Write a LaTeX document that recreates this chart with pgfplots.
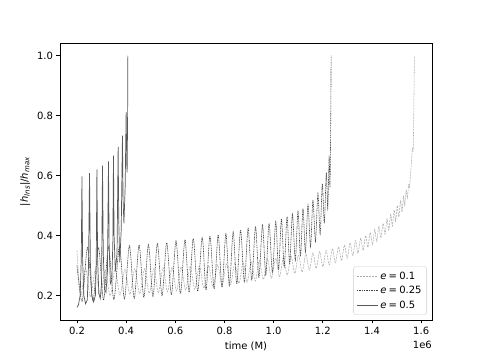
\documentclass[border=0pt]{standalone}
\usepackage{fontspec}
\setmainfont{DejaVu Sans}
\usepackage{pgfplots}
\pgfplotsset{compat=1.18}

% e = 0.5: sharp spikes
\pgfplotstableread{
x y
0.2000 0.160
0.2060 0.168
0.2130 0.200
0.2175 0.320
0.2203 0.597
0.2230 0.320
0.2280 0.200
0.2350 0.172
0.2420 0.185
0.2470 0.300
0.2511 0.608
0.2545 0.310
0.2600 0.200
0.2680 0.178
0.2750 0.200
0.2785 0.320
0.2811 0.620
0.2840 0.320
0.2890 0.205
0.2950 0.190
0.3000 0.240
0.3039 0.633
0.3070 0.340
0.3120 0.220
0.3180 0.210
0.3240 0.280
0.3282 0.647
0.3310 0.360
0.3360 0.240
0.3420 0.250
0.3460 0.380
0.3485 0.666
0.3510 0.400
0.3560 0.280
0.3630 0.340
0.3675 0.696
0.3700 0.450
0.3740 0.310
0.3800 0.420
0.3850 0.733
0.3875 0.520
0.3910 0.440
0.3960 0.560
0.4000 0.812
0.4025 0.640
0.4040 0.610
0.4060 0.800
0.4070 1.000
}\tabfive

% e = 0.25
\pgfplotstableread{
x y
0.200 0.300
0.221 0.180
0.2430 0.360
0.265 0.182
0.2876 0.360
0.308 0.184
0.3282 0.362
0.350 0.186
0.3728 0.364
0.393 0.188
0.4134 0.366
0.433 0.190
0.4527 0.368
0.472 0.193
0.4905 0.370
0.509 0.196
0.5270 0.373
0.546 0.199
0.5651 0.376
0.584 0.202
0.6028 0.382
0.621 0.206
0.6393 0.386
0.656 0.210
0.6730 0.390
0.691 0.214
0.7095 0.394
0.725 0.218
0.7408 0.398
0.758 0.222
0.7744 0.402
0.790 0.227
0.8057 0.406
0.820 0.232
0.8353 0.412
0.850 0.238
0.8653 0.418
0.881 0.245
0.8961 0.424
0.911 0.252
0.9262 0.430
0.940 0.260
0.9546 0.435
0.968 0.268
0.9813 0.440
0.995 0.276
1.0085 0.447
1.020 0.285
1.0316 0.455
1.043 0.295
1.0544 0.463
1.065 0.305
1.0763 0.471
1.088 0.317
1.0990 0.480
1.109 0.330
1.1193 0.490
1.129 0.345
1.1396 0.502
1.150 0.362
1.1598 0.518
1.170 0.380
1.1801 0.540
1.189 0.405
1.1980 0.572
1.206 0.440
1.2142 0.610
1.220 0.490
1.2256 0.660
1.229 0.560
1.2320 0.770
1.2337 1.000
}\tabquarter

% e = 0.1
\pgfplotstableread{
x y
0.200 0.350
0.215 0.200
0.235 0.290
0.255 0.195
0.275 0.285
0.295 0.197
0.315 0.285
0.335 0.199
0.355 0.286
0.375 0.201
0.395 0.287
0.415 0.203
0.435 0.288
0.455 0.205
0.475 0.289
0.494 0.207
0.513 0.290
0.531 0.209
0.550 0.292
0.568 0.212
0.587 0.293
0.605 0.215
0.624 0.295
0.642 0.218
0.661 0.297
0.679 0.221
0.698 0.298
0.716 0.224
0.735 0.300
0.753 0.228
0.772 0.302
0.790 0.232
0.808 0.305
0.825 0.236
0.842 0.308
0.859 0.240
0.876 0.310
0.892 0.244
0.909 0.313
0.925 0.248
0.942 0.316
0.958 0.253
0.975 0.320
0.991 0.258
1.008 0.324
1.024 0.263
1.040 0.327
1.055 0.268
1.071 0.330
1.086 0.273
1.101 0.334
1.116 0.278
1.131 0.338
1.145 0.284
1.160 0.342
1.173 0.290
1.187 0.346
1.200 0.296
1.213 0.350
1.226 0.302
1.239 0.356
1.251 0.309
1.264 0.362
1.276 0.316
1.288 0.368
1.299 0.324
1.311 0.375
1.322 0.332
1.333 0.383
1.343 0.341
1.354 0.390
1.364 0.350
1.374 0.400
1.383 0.360
1.393 0.410
1.402 0.370
1.411 0.420
1.419 0.381
1.428 0.430
1.436 0.392
1.445 0.440
1.453 0.404
1.461 0.455
1.468 0.418
1.476 0.470
1.483 0.432
1.490 0.485
1.496 0.447
1.503 0.500
1.509 0.462
1.516 0.515
1.522 0.478
1.528 0.530
1.533 0.500
1.539 0.550
1.544 0.525
1.549 0.570
1.553 0.560
1.556 0.600
1.560 0.640
1.564 0.690
1.568 0.700
1.5725 1.000
}\tabtenth

\newcommand{\eq}{\hspace{0.22em}=\hspace{0.22em}}

\begin{document}
\fontsize{10}{12}\selectfont
\begin{tikzpicture}
  \path[use as bounding box] (0pt,0pt) rectangle (480pt,361pt);
  \begin{axis}[
      at={(60pt,41pt)}, anchor=south west,
      scale only axis,
      width=372pt, height=277pt,
      xmin=0.131, xmax=1.644,
      ymin=0.118, ymax=1.042,
      xtick={0.2,0.4,0.6,0.8,1.0,1.2,1.4,1.6},
      ytick={0.2,0.4,0.6,0.8,1.0},
      scaled x ticks=false,
      clip mode=individual,
      tick align=outside,
      tick pos=left,
      major tick length=3.5pt,
      every tick/.style={black, line width=0.8pt},
      axis line style={black, line width=0.8pt},
      /pgf/number format/assume math mode=true,
      xticklabel style={/pgf/number format/fixed, /pgf/number format/fixed zerofill, /pgf/number format/precision=1},
      yticklabel style={/pgf/number format/fixed, /pgf/number format/fixed zerofill, /pgf/number format/precision=1},
      xlabel={time (M)},
      ylabel={|\textit{h}\textsubscript{\textit{lns}}|/\textit{h}\textsubscript{\textit{max}}},
      legend cell align=left,
      legend style={at={(0.986,0.019)}, anchor=south east,
        draw=black!20, rounded corners=2pt, fill=white, fill opacity=0.8, text opacity=1,
        row sep=1.5pt, inner sep=3pt},
      legend image code/.code={\draw[#1] (0pt,0pt) -- (21pt,0pt);},
    ]
    \addplot[gray!65, line width=0.55pt, dash pattern=on 2pt off 1pt, smooth, tension=0.5] table[x=x, y=y] {\tabtenth};
    \addplot[black!75, line width=0.6pt, dash pattern=on 1pt off 0.7pt, smooth, tension=0.5] table[x=x, y=y] {\tabquarter};
    \addplot[black!65, line width=0.7pt] table[x=x, y=y] {\tabfive};
    \legend{\textit{e}\eq 0.1, \textit{e}\eq 0.25, \textit{e}\eq 0.5}
    \node[anchor=north east, inner sep=0pt] at (rel axis cs:1,0) [yshift=-21pt] {1e6};
  \end{axis}
\end{tikzpicture}
\end{document}
